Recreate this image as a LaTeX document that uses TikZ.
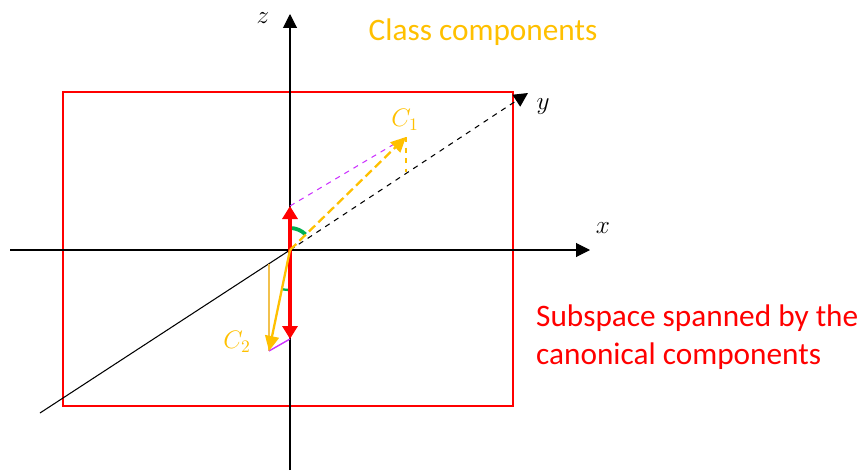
\documentclass[tikz,border=0pt]{standalone}
\usepackage{fontspec}
\setmainfont{Carlito}
\usetikzlibrary{arrows.meta,positioning,calc}
\definecolor{gold}{HTML}{FFC000}
\definecolor{lightgold}{HTML}{F2C14E}
\definecolor{planered}{HTML}{FF0000}
\definecolor{anglegreen}{HTML}{00B050}
\definecolor{violet}{HTML}{CC33FF}

\begin{document}
\begin{tikzpicture}[x=0.02cm, y=-0.02cm,
  axis/.style={black, line width=0.6pt},
  axisarrow/.style={axis, -{Triangle[length=2.8mm, width=2.8mm]}},
  canon/.style={planered, line width=1.8pt, -{Triangle[length=2.6mm, width=3mm]}},
  classvec/.style={gold, line width=1.3pt, -{Triangle[length=3mm, width=2.8mm]}},
  helper/.style={line width=0.6pt},
  angle/.style={anglegreen, line width=2.2pt},
  axislabel/.style={font=\Large},
  veclabel/.style={text=gold, font=\Large},
  caption/.style={font=\fontsize{17.8}{21.3}\selectfont, align=left}
]
\useasboundingbox (0,0) rectangle (862,470);

% coordinates
\coordinate (O) at (290,250);
\coordinate (zlow) at (290,470);
\coordinate (ztip) at (290,14);
\coordinate (xlow) at (10,250);
\coordinate (xtip) at (590,250);
\coordinate (ylow) at (40,413);
\coordinate (ytip) at (528,93);
\coordinate (c1) at (406,137);
\coordinate (c1foot) at (406,172);
\coordinate (c2) at (269,351);
\coordinate (c2foot) at (269,264);
\coordinate (up) at (290,206);
\coordinate (down) at (290,339);

% plane
\draw[planered, line width=1.5pt] (63,92) rectangle (513,406);

% axes
\draw[axisarrow] (zlow) -- (ztip);
\draw[axisarrow] (xlow) -- (xtip);
\draw[axis] (ylow) -- (O);
\draw[axis, dashed, -{Triangle[length=2.8mm, width=2.8mm]}] (O) -- (ytip);

\node[axislabel] (zl) at (263,18) {$z$};
\node[axislabel] (xl) at (603,228) {$x$};
\node[axislabel] (yl) at (543,107) {$y$};

% projections
\draw[helper, violet, dashed] (up) -- (c1);
\draw[helper, gold, dashed] (c1) -- (c1foot);
\draw[helper, lightgold, line width=0.8pt] (c2foot) -- (c2);
\draw[helper, violet, line width=0.8pt] (c2) -- (down);

% angles
\draw[angle] (290,228) arc[start angle=-90, end angle=-45, radius=22];
\draw[anglegreen, line width=1.3pt] (290,290) arc[start angle=90, end angle=102, radius=40];

% canonical components
\draw[canon] (O) -- (up);
\draw[canon] (O) -- (down);

% class components
\draw[classvec, dashed, dash pattern=on 5pt off 2.5pt] (O) -- (c1);
\draw[classvec] (O) -- (c2);

\node[veclabel] (c1l) at (405,120) {$C_1$};
\node[veclabel] (c2l) at (237,342) {$C_2$};

\node[caption, text=gold] (classcap) at (483,32) {Class components};
\node[caption, text=planered, anchor=west] (planecap) at (530,337) {Subspace spanned by the\\canonical components};
\end{tikzpicture}
\end{document}
